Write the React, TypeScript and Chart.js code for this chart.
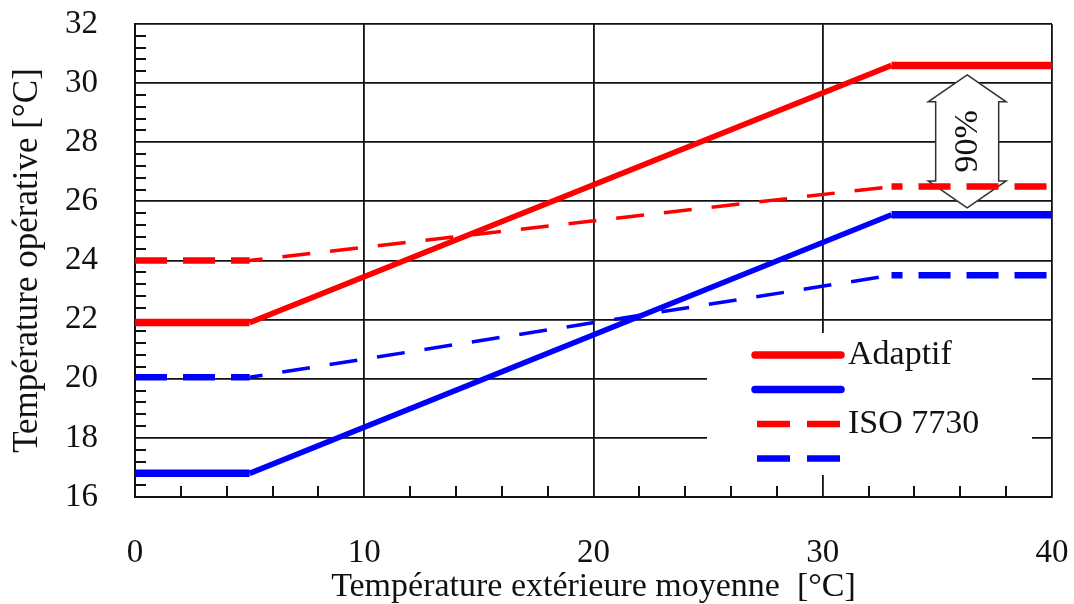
import React, { useEffect, useRef } from "react";
import { Chart, registerables } from "chart.js";

Chart.register(...registerables);

// ---- data ----
const xBreaks = [0, 5, 33, 40];
const adaptifUpper = [21.9, 21.9, 30.6, 30.6];
const adaptifLower = [16.8, 16.8, 25.55, 25.55];
const isoUpper = [24.0, 24.0, 26.5, 26.5];
const isoLower = [20.05, 20.05, 23.5, 23.5];
const xTickValues = [0, 10, 20, 30, 40];
const yTickValues = [16, 18, 20, 22, 24, 26, 28, 30, 32];
const legendLabels = ["Adaptif", "", "ISO 7730", ""];
const xTitle = "Température extérieure moyenne  [°C]";
const yTitle = "Température opérative [°C]";
const arrowLabel = "90%";
const arrowX = 36.3;
const arrowTop = 30.28;
const arrowBottom = 25.78;
const xMinorStep = 2;
const yMinorStep = 0.4;

// ---- styles ----
const FONT = '"Liberation Serif", "Times New Roman", serif';
const INK = "#111";
const RED = "#ff0000";
const BLUE = "#0000ff";

const pts = (ys: number[]) => xBreaks.map((x, i) => ({ x, y: ys[i] }));

function solidSeg() {
  return {
    borderWidth: (c: any) => (c.p0DataIndex === 1 ? 5.5 : 7.5),
  };
}
function dashedSeg() {
  return {
    borderWidth: (c: any) => (c.p0DataIndex === 1 ? 3.5 : 6.5),
    borderDash: (c: any) => (c.p0DataIndex === 1 ? [28, 20] : [32, 16]),
    borderDashOffset: (c: any) =>
      c.p0DataIndex === 1 ? 15 : c.p0DataIndex === 2 ? 21 : 0,
  };
}

const minorTicksPlugin = {
  id: "minorTicks",
  beforeDatasetsDraw(chart: any) {
    const { ctx, chartArea, scales } = chart;
    const xs = scales.x;
    const ys = scales.y;
    ctx.save();
    ctx.strokeStyle = INK;
    ctx.lineWidth = 2;
    ctx.beginPath();
    const nY = Math.round((ys.max - ys.min) / yMinorStep);
    for (let i = 1; i < nY; i++) {
      const v = ys.min + i * yMinorStep;
      if (Math.abs(v / 2 - Math.round(v / 2)) < 1e-6) continue;
      const py = Math.round(ys.getPixelForValue(v));
      ctx.moveTo(chartArea.left, py);
      ctx.lineTo(chartArea.left + 11, py);
    }
    const nX = Math.round((xs.max - xs.min) / xMinorStep);
    for (let i = 1; i < nX; i++) {
      const v = xs.min + i * xMinorStep;
      if (v % 10 === 0) continue;
      const px = Math.round(xs.getPixelForValue(v));
      ctx.moveTo(px, chartArea.bottom);
      ctx.lineTo(px, chartArea.bottom - 11);
    }
    ctx.stroke();
    ctx.restore();
  },
};

const arrowPlugin = {
  id: "arrow90",
  beforeDatasetsDraw(chart: any) {
    const { ctx, scales } = chart;
    const cx = scales.x.getPixelForValue(arrowX);
    const top = scales.y.getPixelForValue(arrowTop);
    const bot = scales.y.getPixelForValue(arrowBottom);
    const head = 27;
    const sw = 31.5;
    const hw = 39;
    ctx.save();
    ctx.beginPath();
    ctx.moveTo(cx, top);
    ctx.lineTo(cx + hw, top + head);
    ctx.lineTo(cx + sw, top + head);
    ctx.lineTo(cx + sw, bot - head);
    ctx.lineTo(cx + hw, bot - head);
    ctx.lineTo(cx, bot);
    ctx.lineTo(cx - hw, bot - head);
    ctx.lineTo(cx - sw, bot - head);
    ctx.lineTo(cx - sw, top + head);
    ctx.lineTo(cx - hw, top + head);
    ctx.closePath();
    ctx.fillStyle = "#fff";
    ctx.fill();
    ctx.strokeStyle = "#333";
    ctx.lineWidth = 1.5;
    ctx.stroke();
    ctx.translate(cx, (top + bot) / 2);
    ctx.rotate(-Math.PI / 2);
    ctx.fillStyle = INK;
    ctx.font = `34px ${FONT}`;
    ctx.textAlign = "center";
    ctx.textBaseline = "middle";
    ctx.fillText(arrowLabel, 0, 1);
    ctx.restore();
  },
};

const legendPlugin = {
  id: "boxLegend",
  afterDatasetsDraw(chart: any) {
    const { ctx, chartArea } = chart;
    const left = chartArea.left + 572;
    const top = chartArea.top + 309;
    ctx.save();
    ctx.fillStyle = "#fff";
    ctx.fillRect(left, top, 325, 142);
    chart.data.datasets.forEach((ds: any, i: number) => {
      const y = top + 22 + i * 34.5;
      ctx.beginPath();
      ctx.strokeStyle = ds.borderColor;
      const dashed = i >= 2;
      ctx.lineWidth = dashed ? 6.5 : 7.5;
      ctx.lineCap = dashed ? "butt" : "round";
      ctx.setLineDash(dashed ? [33, 17] : []);
      ctx.moveTo(left + (dashed ? 50 : 48), y);
      ctx.lineTo(left + 134, y);
      ctx.stroke();
      const label = legendLabels[i];
      if (label) {
        ctx.setLineDash([]);
        ctx.fillStyle = INK;
        ctx.font = `34px ${FONT}`;
        ctx.textAlign = "left";
        ctx.textBaseline = "middle";
        ctx.fillText(label, left + 141, y);
      }
    });
    ctx.restore();
  },
};

const zeroPad = (s: any) => {
  s.paddingTop = 0;
  s.paddingBottom = 0;
  s.paddingLeft = 0;
  s.paddingRight = 0;
};

export default function App() {
  const ref = useRef<HTMLCanvasElement | null>(null);
  useEffect(() => {
    document.body.style.margin = "0";
    if (!ref.current) return;
    const chart = new Chart(ref.current, {
      type: "line",
      data: {
        datasets: [
          {
            label: legendLabels[0],
            data: pts(adaptifUpper),
            borderColor: RED,
            borderWidth: 7,
            segment: solidSeg(),
          },
          {
            label: legendLabels[1],
            data: pts(adaptifLower),
            borderColor: BLUE,
            borderWidth: 7,
            segment: solidSeg(),
          },
          {
            label: legendLabels[2],
            data: pts(isoUpper),
            borderColor: RED,
            borderWidth: 6,
            segment: dashedSeg(),
          },
          {
            label: legendLabels[3],
            data: pts(isoLower),
            borderColor: BLUE,
            borderWidth: 6,
            segment: dashedSeg(),
          },
        ],
      },
      options: {
        animation: false,
        responsive: false,
        maintainAspectRatio: false,
        parsing: false as any,
        elements: {
          point: { radius: 0, hoverRadius: 0 },
          line: { tension: 0, borderCapStyle: "butt", fill: false },
        },
        layout: { padding: { left: 0, top: 24, right: 22, bottom: 0 } },
        plugins: {
          legend: { display: false },
          tooltip: { enabled: false },
        },
        events: [],
        scales: {
          x: {
            type: "linear",
            min: 0,
            max: 40,
            afterBuildTicks: (s: any) => {
              s.ticks = xTickValues.map((v) => ({ value: v }));
            },
            afterFit: (s: any) => {
              s.height = 107;
              zeroPad(s);
            },
            ticks: {
              padding: 37,
              color: INK,
              font: { family: FONT, size: 33 },
              maxRotation: 0,
              autoSkip: false,
            },
            grid: { color: INK, lineWidth: 1.8, drawTicks: false },
            border: { display: true, color: INK, width: 2 },
            title: {
              display: true,
              text: xTitle,
              color: INK,
              font: { family: FONT, size: 34, lineHeight: 1 },
              padding: { top: 0, bottom: 0 },
            },
          },
          y: {
            type: "linear",
            min: 16,
            max: 32,
            afterBuildTicks: (s: any) => {
              s.ticks = yTickValues.map((v) => ({ value: v }));
            },
            afterFit: (s: any) => {
              s.width = 135;
              zeroPad(s);
            },
            ticks: {
              padding: 37,
              color: INK,
              font: { family: FONT, size: 33 },
              autoSkip: false,
            },
            grid: { color: INK, lineWidth: 1.8, drawTicks: false },
            border: { display: true, color: INK, width: 2 },
            title: {
              display: true,
              text: yTitle,
              color: INK,
              font: { family: FONT, size: 35, lineHeight: 1 },
              padding: { top: 10, bottom: 0 },
            },
          },
        },
      },
      plugins: [minorTicksPlugin, arrowPlugin, legendPlugin],
    } as any);
    return () => chart.destroy();
  }, []);
  return (
    <div style={{ width: 1074, height: 604 }}>
      <canvas ref={ref} width={1074} height={604} style={{ display: "block" }} />
    </div>
  );
}
